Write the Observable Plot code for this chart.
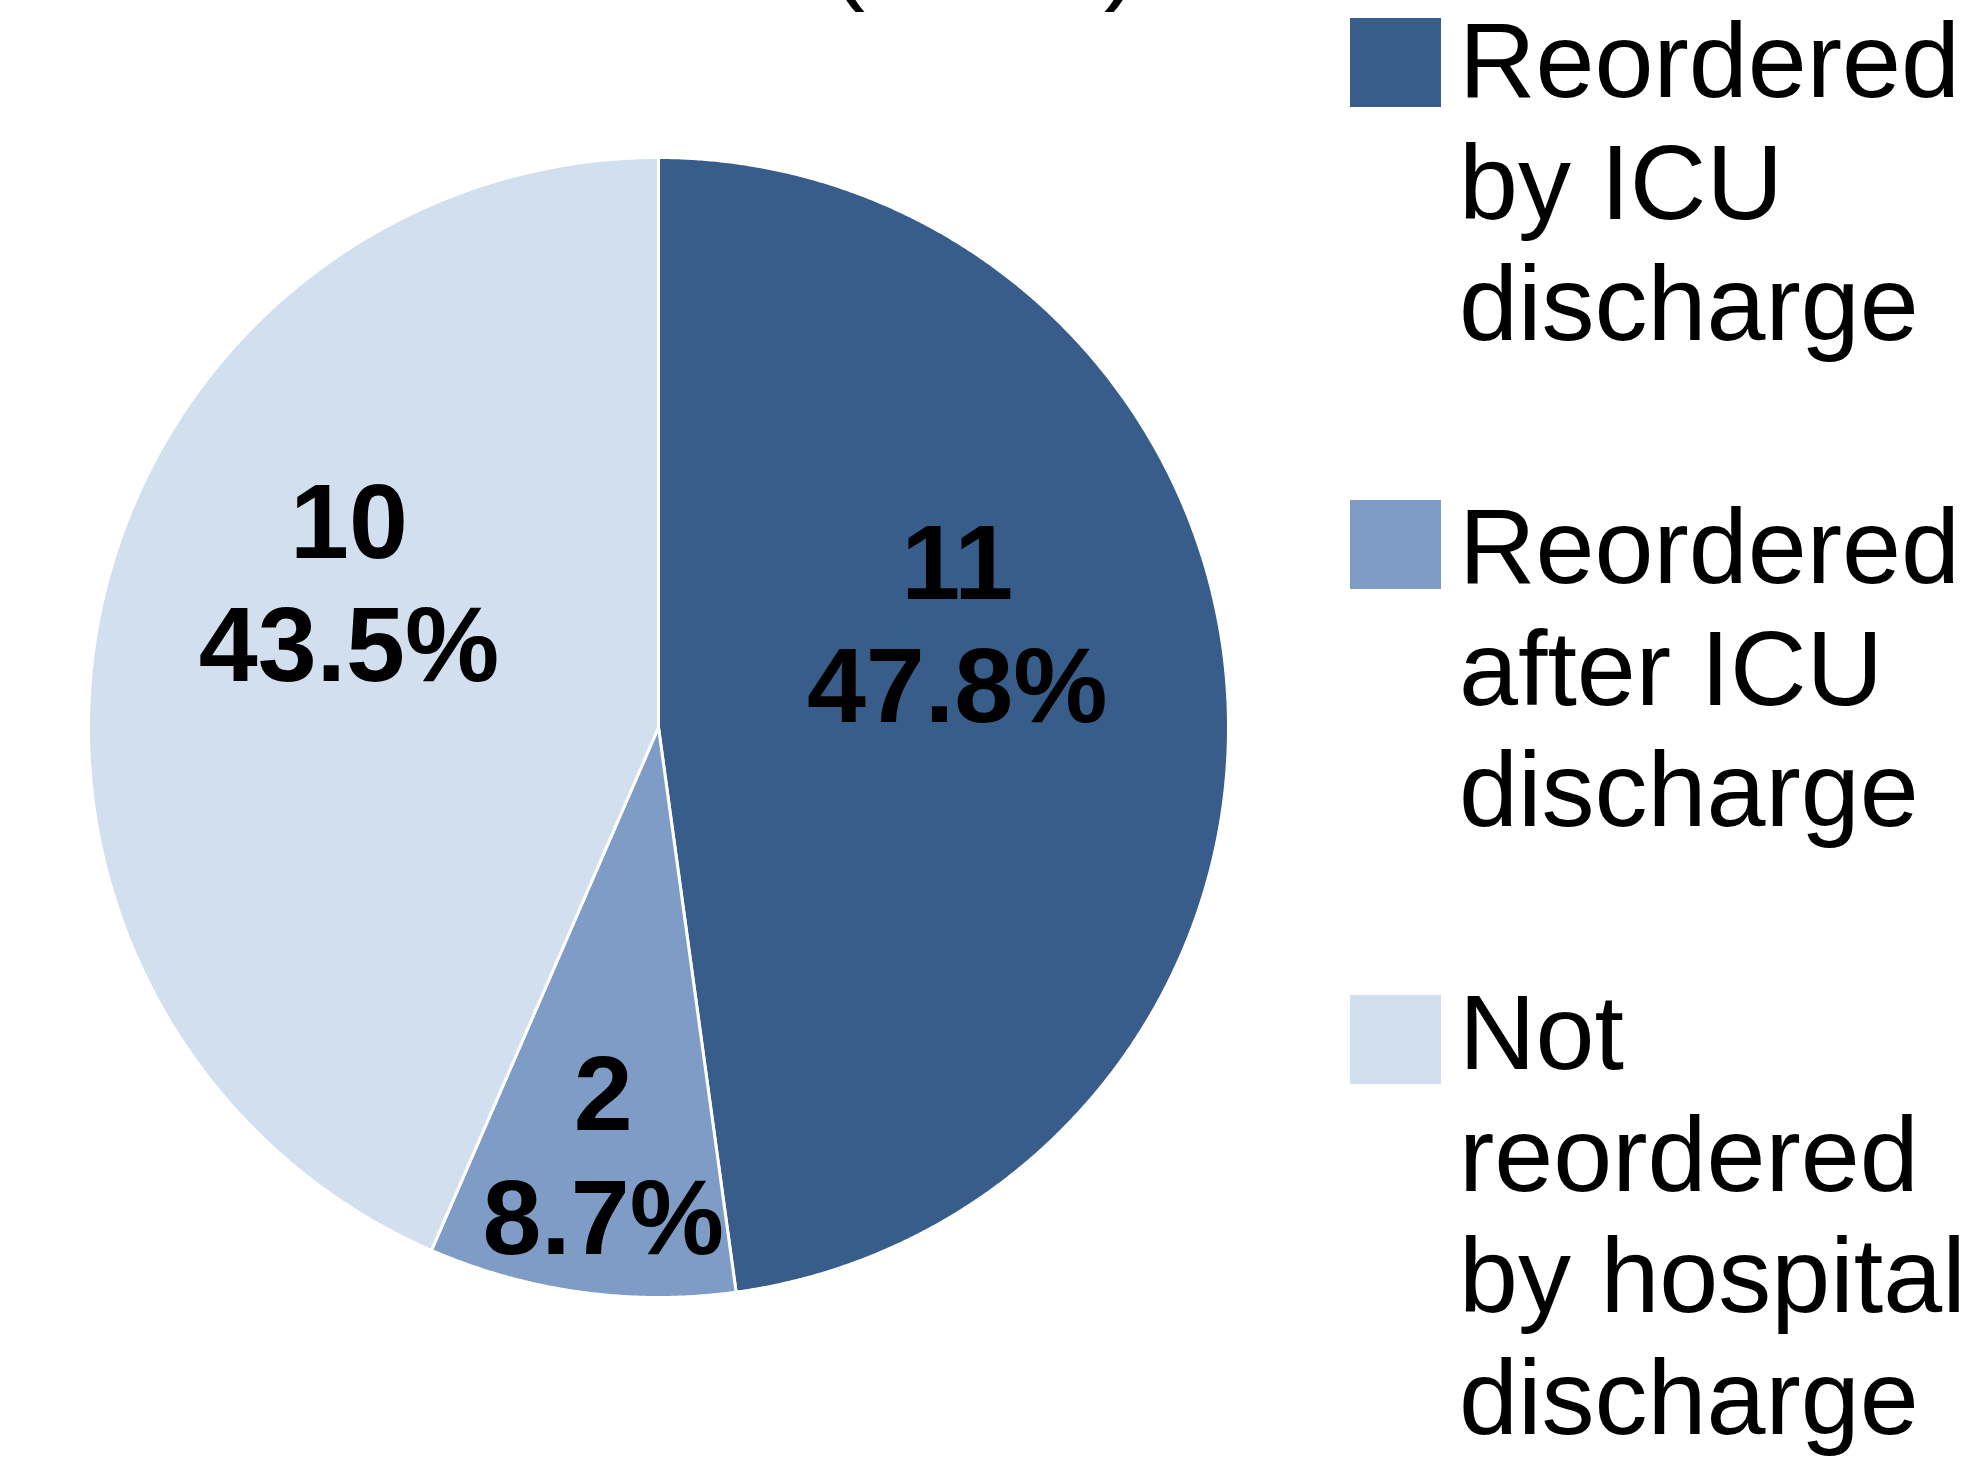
<!DOCTYPE html>
<html><head><meta charset="utf-8">
<script src="https://cdn.jsdelivr.net/npm/d3@7"></script>
<script src="https://cdn.jsdelivr.net/npm/@observablehq/plot@0.6"></script>
<style>
html,body{margin:0;padding:0;background:#fff;width:1975px;height:1459px;overflow:hidden;}
#wrap{position:relative;width:1975px;height:1459px;}
#chart{position:absolute;left:0;top:0;}
.item{position:absolute;left:1350px;}
.sw{position:absolute;left:0;width:91px;height:89px;}
.lab{position:absolute;left:109px;top:0;font-family:"Liberation Sans",Arial,sans-serif;font-size:106px;line-height:121.5px;white-space:nowrap;color:#000;}
</style></head>
<body><div id="wrap"><div id="chart"></div><div id="legend"></div></div>
<script>
// ---- data ----
const categories = ["Reordered by ICU discharge", "Reordered after ICU discharge", "Not reordered by hospital discharge"];
const legendLines = [["Reordered", "by ICU", "discharge"], ["Reordered", "after ICU", "discharge"], ["Not", "reordered", "by hospital", "discharge"]];
const counts = [11, 2, 10];
const colors = ["#385D8A", "#7F9CC7", "#D2DFEE"];
const titleText = "(n=23)";

// ---- layout (not data) ----
const labelAnchor = [[0.524, 0.225], [-0.097, -0.707], [-0.543, 0.298]]; // count-line baseline, radius units
const lineGap = 0.216; // gap between count and percent baselines, radius units
const swatchOffset = [18, 14, 23];
const FONT = '"Liberation Sans", Arial, sans-serif';

const total = d3.sum(counts);
const pie = d3.pie().sort(null).value(d => d.count)(categories.map((c, i) => ({category: c, count: counts[i]})));

const arcPts = [];
pie.forEach(p => {
  const n = Math.max(2, Math.ceil((p.endAngle - p.startAngle) / (Math.PI / 720)));
  arcPts.push({category: p.data.category, x: 0, y: 0});
  for (let k = 0; k <= n; k++) {
    const a = p.startAngle + (p.endAngle - p.startAngle) * k / n;
    arcPts.push({category: p.data.category, x: Math.sin(a), y: Math.cos(a)});
  }
  arcPts.push({category: p.data.category, x: 0, y: 0});
});

const labels = pie.map((p, i) => ({
  category: p.data.category,
  count: p.data.count,
  pct: (p.data.count / total * 100).toFixed(1) + "%",
  x: labelAnchor[i][0],
  y1: labelAnchor[i][1],
  y2: labelAnchor[i][1] - lineGap
}));

const chart = Plot.plot({
  width: 1975,
  height: 1459,
  margin: 0,
  x: {domain: [-1, 1], range: [88, 1228], axis: null},
  y: {domain: [-1, 1], range: [1297, 157], axis: null},
  color: {domain: categories, range: colors},
  style: {background: "transparent", fontFamily: FONT, overflow: "hidden"},
  marks: [
    Plot.line(arcPts, {x: "x", y: "y", z: "category", fill: "category", stroke: "white", strokeWidth: 3, strokeLinejoin: "round"}),
    Plot.text(labels, {x: "x", y: "y1", text: d => String(d.count), lineAnchor: "bottom", textAnchor: "middle", fontSize: 106, fontWeight: "bold", fill: "black", fontFamily: FONT}),
    Plot.text(labels, {x: "x", y: "y2", text: "pct", lineAnchor: "bottom", textAnchor: "middle", fontSize: 106, fontWeight: "bold", fill: "black", fontFamily: FONT}),
    Plot.text([titleText], {x: () => 0.572, y: () => 1.293, text: d => d, lineAnchor: "bottom", textAnchor: "middle", fontSize: 106, fill: "black", fontFamily: FONT})
  ]
});
document.getElementById("chart").appendChild(chart);

// ---- legend (HTML, right side) ----
const legend = document.getElementById("legend");
let lineIdx = 0;
categories.forEach((c, i) => {
  const item = document.createElement("div");
  item.className = "item";
  item.style.top = (lineIdx * 121.5) + "px";
  const sw = document.createElement("div");
  sw.className = "sw";
  sw.style.top = swatchOffset[i] + "px";
  sw.style.background = colors[i];
  const lab = document.createElement("div");
  lab.className = "lab";
  lab.innerHTML = legendLines[i].join("<br>");
  item.appendChild(sw);
  item.appendChild(lab);
  legend.appendChild(item);
  lineIdx += legendLines[i].length + 1;
});
</script>
</body></html>
